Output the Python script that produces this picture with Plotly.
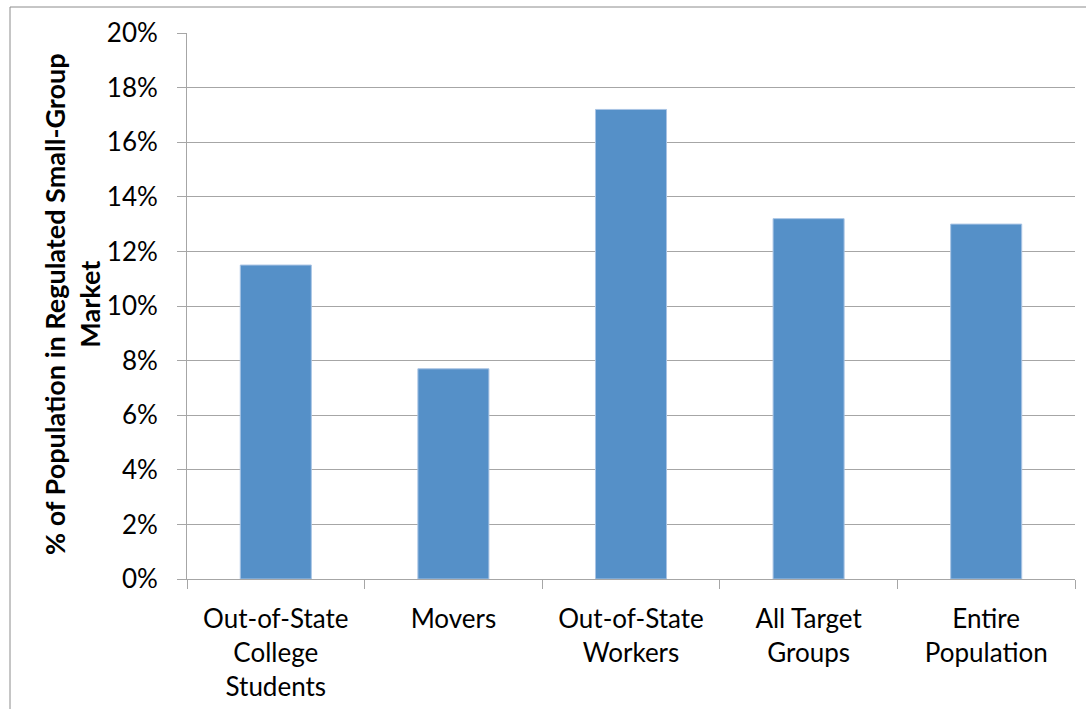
import plotly.graph_objects as go

categories = [
    "Out-of-State<br>College<br>Students",
    "Movers",
    "Out-of-State<br>Workers",
    "All Target<br>Groups",
    "Entire<br>Population",
]
share_pct = [11.5, 7.7, 17.2, 13.2, 13.0]
y_ticks = [0, 2, 4, 6, 8, 10, 12, 14, 16, 18, 20]

FONT = "Lato, Carlito, Calibri, 'Open Sans', sans-serif"
GRID = "#a6a6a6"

fig = go.Figure(
    go.Bar(
        x=categories,
        y=share_pct,
        marker=dict(color="#5590c8", line=dict(color="#a9c4e4", width=1)),
        width=0.4,
        hoverinfo="skip",
    )
)

fig.update_layout(
    width=1086,
    height=709,
    margin=dict(l=187, r=11, t=33, b=130, autoexpand=False),
    paper_bgcolor="white",
    plot_bgcolor="white",
    showlegend=False,
    font=dict(family=FONT, size=26, color="#000000"),
    xaxis=dict(
        type="category",
        tickson="boundaries",
        ticks="outside",
        ticklen=9,
        tickcolor=GRID,
        showline=True,
        linecolor=GRID,
        linewidth=1,
        showgrid=False,
        automargin=False,
        ticklabelstandoff=17,
        tickfont=dict(family=FONT, size=26),
    ),
    yaxis=dict(
        range=[0, 20],
        tickvals=y_ticks,
        ticktext=[f"{v}%" for v in y_ticks],
        ticks="outside",
        ticklen=9,
        tickcolor=GRID,
        showline=True,
        linecolor=GRID,
        linewidth=1,
        showgrid=True,
        gridcolor=GRID,
        gridwidth=1,
        zeroline=False,
        automargin=False,
        ticklabelstandoff=14,
        tickfont=dict(family=FONT, size=26),
    ),
    annotations=[
        dict(
            text="<b>% of Population in Regulated Small-Group<br>Market</b>",
            xref="paper",
            yref="paper",
            x=(72 - 187) / 888,
            y=(579 - 304) / 546,
            xanchor="center",
            yanchor="middle",
            textangle=-90,
            showarrow=False,
            font=dict(family=FONT, size=27, color="#000000"),
        )
    ],
    shapes=[
        dict(
            type="rect",
            xref="paper",
            yref="paper",
            x0=(10 - 187) / 888,
            y0=-0.5,
            x1=1.2,
            y1=(579 - 7) / 546,
            line=dict(color="#8c8c8c", width=1),
            fillcolor="rgba(0,0,0,0)",
            layer="below",
        )
    ],
)

fig.write_html("out.html")
